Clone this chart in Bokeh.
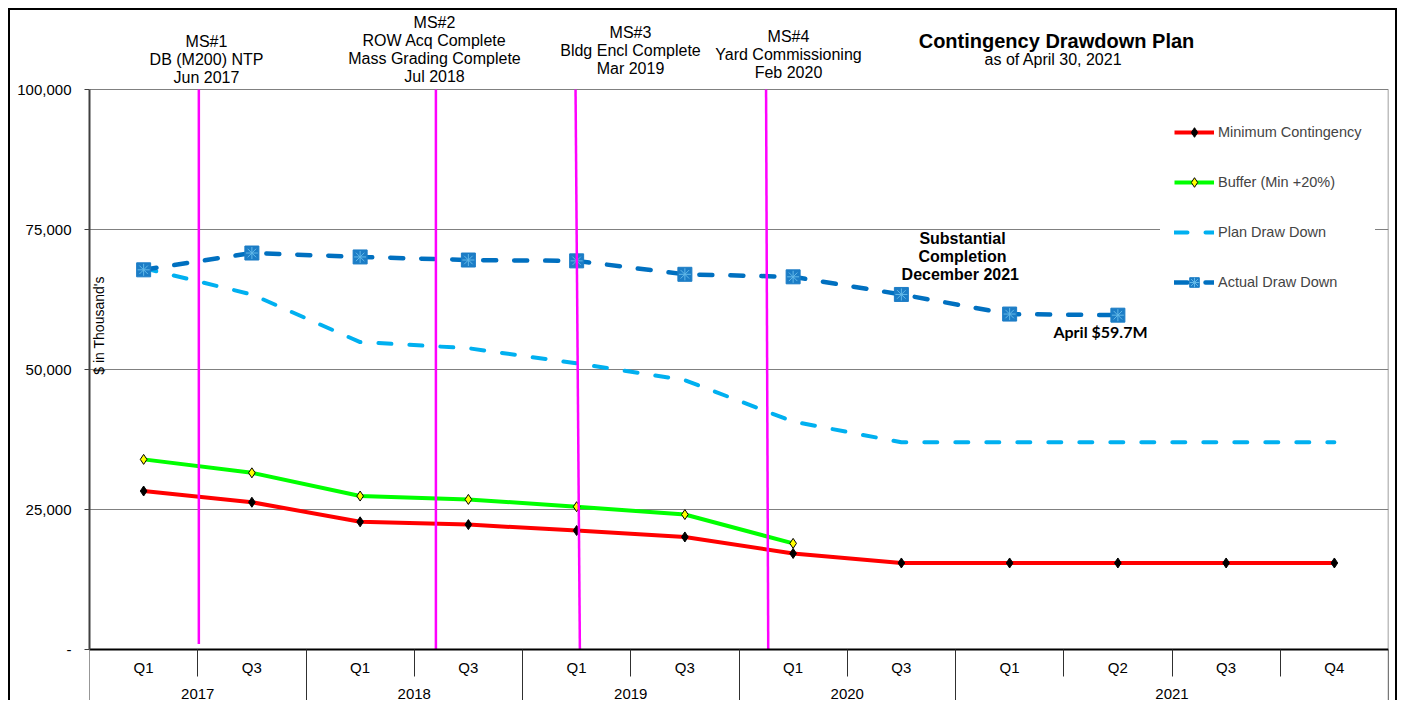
import numpy as np
from bokeh.plotting import figure
from bokeh.models import (FixedTicker, NumeralTickFormatter, Label, Legend,
                          LegendItem, Range1d, LinearAxis)
from bokeh.embed import file_html
from bokeh.resources import INLINE

# ---------------- data ----------------
quarters = ["Q1", "Q3", "Q1", "Q3", "Q1", "Q3", "Q1", "Q3", "Q1", "Q2", "Q3", "Q4"]
years = ["2017", "2018", "2019", "2020", "2021"]
year_first = [0, 2, 4, 6, 8]
year_last = [1, 3, 5, 7, 11]

min_contingency = [28300, 26300, 22800, 22300, 21250, 20100, 17150, 15450,
                   15450, 15450, 15450, 15450]
buffer_min20 = [33950, 31550, 27400, 26800, 25500, 24100, 18950]
plan_drawdown = [68100, 63400, 54900, 53800, 51100, 48100, 40700, 37000,
                 37000, 37000, 37000, 37000]
actual_drawdown = [67800, 70800, 70100, 69550, 69400, 67000, 66550, 63400,
                   59900, 59700]

# milestone positions in category units (between quarters)
ms_x_top = [0.51, 2.70, 3.99, 5.75]
ms_x_bottom = [0.51, 2.70, 4.03, 5.77]
ms_y_bottom = [1000, 0, 0, 0]
ms_text = [["MS#1", "DB (M200) NTP", "Jun 2017"],
           ["MS#2", "ROW Acq Complete", "Mass Grading Complete", "Jul 2018"],
           ["MS#3", "Bldg Encl Complete", "Mar 2019"],
           ["MS#4", "Yard Commissioning", "Feb 2020"]]

y_ticks = [0, 25000, 50000, 75000, 100000]
x_sep_major = [-0.5, 1.5, 3.5, 5.5, 7.5, 11.5]
x_sep_minor = [0.5, 2.5, 4.5, 6.5, 8.5, 9.5, 10.5]

# ---------------- layout helpers (page pixels -> data) ----------------
FX0, FX1 = 89, 1388   # plot area left/right in page px
FY0, FY1 = 649, 89    # plot area bottom (0) / top (100,000) in page px
NCAT = len(quarters)
CANVAS_TOP, CANVAS_H = 10, 692
CANVAS_BOTTOM = CANVAS_TOP + CANVAS_H


def px2x(px):
    return -0.5 + (px - FX0) * NCAT / (FX1 - FX0)


def px2y(py):
    return (FY0 - py) * 100000 / (FY0 - FY1)


FONT = "Liberation Sans"

p = figure(width=1389, height=CANVAS_H, title=None,
           x_range=Range1d(-0.5, NCAT - 0.5),
           y_range=Range1d(px2y(CANVAS_BOTTOM), px2y(CANVAS_TOP)),
           output_backend="svg", toolbar_location=None,
           x_axis_location=None,
           min_border_left=79, min_border_right=11,
           min_border_top=0, min_border_bottom=0)
p.styles = {"border": "2px solid black", "border-bottom": "none",
            "margin-left": "8px", "margin-top": "8px"}
p.background_fill_color = "white"
p.border_fill_color = "white"
p.outline_line_color = None

# x axis at y = 0, category separators drawn as ticks
xaxis = LinearAxis(fixed_location=0,
                   ticker=FixedTicker(ticks=x_sep_major, minor_ticks=x_sep_minor))
xaxis.major_tick_out = CANVAS_BOTTOM - FY0
xaxis.major_tick_in = 0
xaxis.minor_tick_out = 27
xaxis.minor_tick_in = 0
xaxis.major_tick_line_color = "#303030"
xaxis.minor_tick_line_color = "#303030"
xaxis.major_label_overrides = {t: "" for t in x_sep_major}
xaxis.major_label_standoff = 0
xaxis.axis_line_color = "black"
xaxis.axis_line_width = 2
p.add_layout(xaxis, "below")

# y axis
p.yaxis.bounds = (0, 100000)
p.yaxis.ticker = FixedTicker(ticks=y_ticks)
p.yaxis.formatter = NumeralTickFormatter(format="0,0")
p.yaxis.major_label_overrides = {0: "-"}
p.yaxis.major_tick_out = 5
p.yaxis.major_tick_in = 0
p.yaxis.minor_tick_line_color = None
p.yaxis.major_label_standoff = 13
p.yaxis.major_label_text_font = FONT
p.yaxis.major_label_text_font_size = "15px"
p.yaxis.major_label_text_color = "black"
p.yaxis.axis_line_color = "#404040"
p.yaxis.axis_line_width = 2
p.yaxis.major_tick_line_color = "#404040"

p.xgrid.visible = False
p.ygrid.ticker = FixedTicker(ticks=y_ticks[1:])
p.ygrid.grid_line_color = "#808080"
p.ygrid.grid_line_width = 1

# right border of plot area
p.segment(x0=[NCAT - 0.5], y0=[px2y(CANVAS_BOTTOM)], x1=[NCAT - 0.5], y1=[100000],
          line_color="#808080", line_width=1.5)

# ---------------- series ----------------
xs = list(range(NCAT))

r_plan = p.line(xs[:len(plan_drawdown)], plan_drawdown, line_color="#00B0F0",
                line_width=4, line_dash="13 18", line_cap="round")

r_act_line = p.line(xs[:len(actual_drawdown)], actual_drawdown, line_color="#0070C0",
                    line_width=4.5, line_dash="13 18", line_cap="round")
r_act_sq = p.scatter(xs[:len(actual_drawdown)], actual_drawdown, marker="square",
                     size=14, fill_color="#1C7DC6", line_color="#1C7DC6")
r_act_ast = p.scatter(xs[:len(actual_drawdown)], actual_drawdown, marker="asterisk",
                      size=12, line_color="#62B8E8", line_width=1)

r_buf_line = p.line(xs[:len(buffer_min20)], buffer_min20, line_color="#00FF00",
                    line_width=4)
r_buf_pts = p.scatter(xs[:len(buffer_min20)], buffer_min20, marker="diamond",
                      size=10, fill_color="#FFFF00", line_color="black", line_width=1)

r_min_line = p.line(xs[:len(min_contingency)], min_contingency, line_color="#FF0000",
                    line_width=4)
r_min_pts = p.scatter(xs[:len(min_contingency)], min_contingency, marker="diamond",
                      size=10, fill_color="black", line_color="black")

# milestone lines
p.segment(x0=ms_x_bottom, y0=ms_y_bottom, x1=ms_x_top, y1=[100000] * 4,
          line_color="#FF00FF", line_width=2.5)

# legend (location = offset of its lower-left corner from the frame's lower-left)
LEG_LEFT, LEG_TOP, LEG_PAD, LEG_ITEM, LEG_SP = 1160, 106, 14, 24, 26
leg_h = 2 * LEG_PAD + 4 * LEG_ITEM + 3 * LEG_SP
legend = Legend(items=[
    LegendItem(label="Minimum Contingency", renderers=[r_min_line, r_min_pts]),
    LegendItem(label="Buffer (Min +20%)", renderers=[r_buf_line, r_buf_pts]),
    LegendItem(label="Plan Draw Down", renderers=[r_plan]),
    LegendItem(label="Actual Draw Down", renderers=[r_act_line, r_act_sq, r_act_ast]),
], location=(LEG_LEFT - FX0, CANVAS_BOTTOM - (LEG_TOP + leg_h)),
    padding=LEG_PAD, spacing=LEG_SP, margin=0,
    glyph_width=40, glyph_height=LEG_ITEM, label_height=LEG_ITEM, label_standoff=4,
    label_text_font=FONT, label_text_font_size="14.5px",
    background_fill_color="white", background_fill_alpha=1.0,
    border_line_alpha=0)
p.add_layout(legend)


# ---------------- texts ----------------
def add_text(txt, xpx, ypx, size, bold=False, font=FONT, angle=0.0):
    p.add_layout(Label(x=px2x(xpx), y=px2y(ypx), text=txt, text_font=font,
                       text_font_size=size, text_align="center",
                       text_baseline="middle", angle=angle,
                       text_font_style="bold" if bold else "normal",
                       text_color="black"))


# quarter / year labels
for i, q in enumerate(quarters):
    cx = FX0 + (i + 0.5) * (FX1 - FX0) / NCAT
    add_text(q, cx, 667, "15px")
for y, a, b in zip(years, year_first, year_last):
    cx = FX0 + ((a + b) / 2 + 0.5) * (FX1 - FX0) / NCAT
    add_text(y, cx, 693, "15px")

# milestone labels
ms_label_x = [206, 434, 630, 788]
ms_label_top = [41, 22, 31.5, 36]
for lines, lx, ly in zip(ms_text, ms_label_x, ms_label_top):
    for k, t in enumerate(lines):
        add_text(t, lx, ly + 18 * k, "16px")

# titles
add_text("Contingency Drawdown Plan", 1056, 40, "20px", bold=True)
add_text("as of April 30, 2021", 1053, 59, "16px")

# annotations
for k, t in enumerate(["Substantial", "Completion", "December  2021"]):
    add_text(t, 962, 237.5 + 18 * k, "16px", bold=True)
add_text("April $59.7M", 1100, 331, "16px", bold=True, font="Lato")

# y axis title inside plot
add_text("$ in Thousand's", 98, 325, "14px", angle=np.pi / 2)

open("out.html", "w").write(file_html(p, INLINE))
